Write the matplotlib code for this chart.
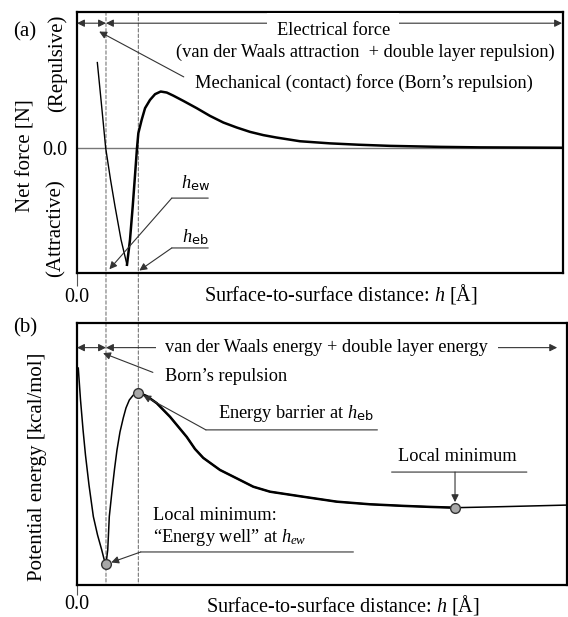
import numpy as np
import matplotlib.pyplot as plt
from matplotlib.patches import ConnectionPatch

plt.rcParams['font.family'] = ['Liberation Serif', 'DejaVu Serif']
plt.rcParams['mathtext.fontset'] = 'custom'
plt.rcParams['mathtext.rm'] = 'Liberation Serif'
plt.rcParams['mathtext.it'] = 'Liberation Serif:italic'
plt.rcParams['mathtext.sf'] = 'DejaVu Sans'

# characteristic distances [A]
h_ew = 2.98
h_eb = 6.31

# (a) net force vs distance (arbitrary units, + repulsive)
force_h = [2.09, 2.52, 2.95, 3.45, 3.91, 4.53, 5.14, 5.45, 5.73, 5.97, 6.17,
           6.31, 6.65, 7.0, 7.51, 8.03, 8.61, 9.23, 9.91, 10.94, 12.31, 13.68,
           15.05, 16.43, 17.8, 19.17, 20.5, 22.94, 26.03, 29.0, 32.2, 37.35,
           41.46, 50.0]
force_v = [0.685, 0.346, 0.0, -0.254, -0.467, -0.734, -0.934, -0.734, -0.467,
           -0.214, 0.0, 0.12, 0.226, 0.32, 0.386, 0.432, 0.453, 0.445, 0.42,
           0.378, 0.32, 0.258, 0.205, 0.165, 0.13, 0.104, 0.085, 0.055, 0.038,
           0.027, 0.018, 0.01, 0.006, 0.003]

# (b) potential energy vs distance (arbitrary units)
energy_h = [0.13, 0.36, 0.62, 0.87, 1.23, 1.68, 2.11, 2.54, 2.78, 2.98, 3.16,
            3.32, 3.6, 3.86, 4.11, 4.42, 4.76, 5.04, 5.38, 5.79, 6.31, 7.17,
            8.2, 9.57, 11.29, 12.14, 12.99, 14.71, 16.43, 18.14, 19.86, 23.25,
            26.72, 30.14, 33.54, 36.32, 38.89, 41.46, 43.83, 47.12, 50.4]
energy_v = [8.28, 7.06, 5.92, 4.96, 3.82, 2.61, 1.91, 1.34, 0.99, 0.79, 1.34,
            2.61, 3.59, 4.43, 5.15, 5.84, 6.38, 6.76, 7.06, 7.25, 7.34, 7.21,
            6.94, 6.42, 5.65, 5.19, 4.85, 4.39, 4.07, 3.75, 3.56, 3.37, 3.18,
            3.08, 3.02, 2.98, 2.95, 2.97, 2.99, 3.02, 3.05]

force_h = np.array(force_h)
force_v = np.array(force_v)
energy_h = np.array(energy_h)
energy_v = np.array(energy_v)

lead = '#333333'
fs = 13.2
fs_lab = 15

fig = plt.figure(figsize=(5.68, 6.17), dpi=100)
ax1 = fig.add_axes([0.1356, 0.5575, 0.8556, 0.4231])
ax2 = fig.add_axes([0.1356, 0.0519, 0.8627, 0.4246])
for ax in (ax1, ax2):
    ax.set_facecolor('none')
    for s in ax.spines.values():
        s.set_linewidth(1.6)
    ax.set_xticks([0])
    ax.set_xticklabels(['0.0'], fontsize=14.5)
ax1.tick_params(axis='x', length=9, width=0.8, color='#555', pad=2)
ax2.tick_params(axis='x', length=7, width=0.8, color='#555', pad=0)
ax1.set_xlim(0, 50)
ax2.set_xlim(0, 50 * 0.8627 / 0.8556)
ax1.set_ylim(-1.0, 1.09)
ax2.set_ylim(0, 10)
ax1.set_yticks([0])
ax1.set_yticklabels(['0.0'], fontsize=14.5)
ax1.tick_params(axis='y', length=0, pad=7)
ax2.set_yticks([])

# dashed guides through both panels
for h in (h_ew, h_eb):
    cp = ConnectionPatch(xyA=(h, 1.09), coordsA=ax1.transData,
                         xyB=(h, 0), coordsB=ax2.transData,
                         color='#777', lw=0.8, ls=(0, (3, 2)), zorder=-1)
    fig.add_artist(cp)

# (a) force curve
ax1.axhline(0, color='#777', lw=1.0)
i_min = int(np.argmin(force_v))
ax1.plot(force_h[:i_min + 1], force_v[:i_min + 1], color='k', lw=1.0)
ax1.plot(force_h[i_min:], force_v[i_min:], color='k', lw=1.8)

# (b) energy curve
well = int(np.argmin(np.where(energy_h < h_eb, energy_v, np.inf)))
peak = int(np.argmax(np.where(energy_h > h_ew, energy_v, -np.inf)))
local = int(np.argmin(np.where(energy_h > h_eb, energy_v, np.inf)))
ax2.plot(energy_h, energy_v, color='k', lw=1.1)
ax2.plot(energy_h[peak:local + 1], energy_v[peak:local + 1], color='k', lw=1.8)
for i in (well, peak, local):
    ax2.plot(energy_h[i], energy_v[i], 'o', ms=7, mfc='#a8a8a8', mec='#333',
             mew=1.0, zorder=5)

mix = ('data', 'axes fraction')
head = dict(color=lead, lw=0.8, mutation_scale=11, shrinkA=0, shrinkB=0)

# (a) annotations
ax1.annotate('', xy=(0, 0.957), xytext=(h_ew, 0.957), xycoords=mix,
             textcoords=mix, arrowprops=dict(arrowstyle='<|-|>', **head))
ax1.annotate('', xy=(h_ew, 0.957), xytext=(49.9, 0.957), xycoords=mix,
             textcoords=mix, arrowprops=dict(arrowstyle='<|-|>', **head))
ax1.text(0.527, 0.93, 'Electrical force', transform=ax1.transAxes, fontsize=fs,
         ha='center', va='center',
         bbox=dict(boxstyle='square,pad=0.5', fc='white', ec='none'))
ax1.text(0.593, 0.847, '(van der Waals attraction  + double layer repulsion)',
         transform=ax1.transAxes, fontsize=fs, ha='center', va='center')
ax1.annotate('Mechanical (contact) force (Born\u2019s repulsion)',
             xy=(h_ew - 0.7, 0.925), xycoords=mix,
             xytext=(0.243, 0.728), textcoords='axes fraction',
             fontsize=fs, ha='left', va='center',
             arrowprops=dict(arrowstyle='-|>', relpos=(0, 0.5), color=lead,
                             lw=0.8, mutation_scale=11, shrinkA=7, shrinkB=0))


def leader(ax, label, tip, x0, x1, yline, ytext, xtext, ha='center',
           shrink=0):
    ax.annotate('', xy=(x0, yline), xytext=(x1, yline), xycoords='axes fraction',
                textcoords='axes fraction',
                arrowprops=dict(arrowstyle='-', color=lead, lw=0.8,
                                shrinkA=0, shrinkB=0))
    ax.annotate('', xy=tip, xycoords='data', xytext=(x0, yline),
                textcoords='axes fraction',
                arrowprops=dict(arrowstyle='-|>', color=lead, lw=0.8,
                                mutation_scale=11, shrinkA=0, shrinkB=shrink))
    ax.text(xtext, ytext, label, transform=ax.transAxes, fontsize=fs,
            ha=ha, va='center')


leader(ax1, r'$h_{\mathsf{ew}}$', (h_ew + 0.35, -0.97), 0.195, 0.270, 0.287,
       0.345, 0.243)
leader(ax1, r'$h_{\mathsf{eb}}$', (h_eb + 0.1, -0.98), 0.195, 0.270, 0.096,
       0.138, 0.243)

# (b) annotations
ax2.annotate('', xy=(0, 0.906), xytext=(h_ew, 0.906), xycoords=mix,
             textcoords=mix, arrowprops=dict(arrowstyle='<|-|>', **head))
ax2.annotate('', xy=(h_ew, 0.906), xytext=(49.4, 0.906), xycoords=mix,
             textcoords=mix, arrowprops=dict(arrowstyle='<|-|>', **head))
ax2.text(0.51, 0.905, 'van der Waals energy + double layer energy',
         transform=ax2.transAxes, fontsize=fs, ha='center', va='center',
         bbox=dict(boxstyle='square,pad=0.5', fc='white', ec='none'))
ax2.annotate('Born\u2019s repulsion', xy=(h_ew - 0.3, 0.885), xycoords=mix,
             xytext=(0.179, 0.794), textcoords='axes fraction',
             fontsize=fs, ha='left', va='center',
             arrowprops=dict(arrowstyle='-|>', relpos=(0, 0.5), color=lead,
                             lw=0.8, mutation_scale=11, shrinkA=7, shrinkB=0))
leader(ax2, r'Energy barrier at $h_{\mathsf{eb}}$',
       (energy_h[peak], energy_v[peak]), 0.263, 0.613, 0.592, 0.653, 0.288,
       ha='left', shrink=4)
leader(ax2, 'Local minimum:\n\u201cEnergy well\u201d at $h_{ew}$',
       (energy_h[well], energy_v[well]), 0.130, 0.564, 0.126, 0.219, 0.156,
       ha='left', shrink=4)
ax2.annotate('', xy=(0.642, 0.431), xytext=(0.918, 0.431),
             xycoords='axes fraction', textcoords='axes fraction',
             arrowprops=dict(arrowstyle='-', color=lead, lw=0.8,
                             shrinkA=0, shrinkB=0))
ax2.annotate('', xy=(energy_h[local], energy_v[local]), xycoords='data',
             xytext=(energy_h[local], 0.431), textcoords=mix,
             arrowprops=dict(arrowstyle='-|>', color=lead, lw=0.8,
                             mutation_scale=11, shrinkA=0, shrinkB=4))
ax2.text(0.776, 0.489, 'Local minimum', transform=ax2.transAxes, fontsize=fs,
         ha='center', va='center')

# axis labels
xl = 'Surface-to-surface distance: $h$ [\u00c5]'
ax1.set_xlabel(xl, fontsize=14.5, va='top')
ax1.xaxis.set_label_coords(0.543, -0.036)
ax2.set_xlabel(xl, fontsize=14.5, va='top')
ax2.xaxis.set_label_coords(0.543, -0.029)

fig.text(26 / 568, 1 - 156 / 617, 'Net force [N]', rotation=90,
         fontsize=fs_lab, ha='center', va='center')
fig.text(57 / 568, 1 - 63 / 617, '(Repulsive)', rotation=90,
         fontsize=fs_lab, ha='center', va='center')
fig.text(56 / 568, 1 - 228 / 617, '(Attractive)', rotation=90,
         fontsize=fs_lab, ha='center', va='center')
fig.text(38 / 568, 1 - 467 / 617, 'Potential energy [kcal/mol]', rotation=90,
         fontsize=fs_lab, ha='center', va='center')
fig.text(25 / 568, 1 - 32 / 617, '(a)', fontsize=fs_lab, ha='center',
         va='center')
fig.text(25 / 568, 1 - 328 / 617, '(b)', fontsize=fs_lab, ha='center',
         va='center')

fig.savefig('out.png', dpi=100, facecolor='white')
